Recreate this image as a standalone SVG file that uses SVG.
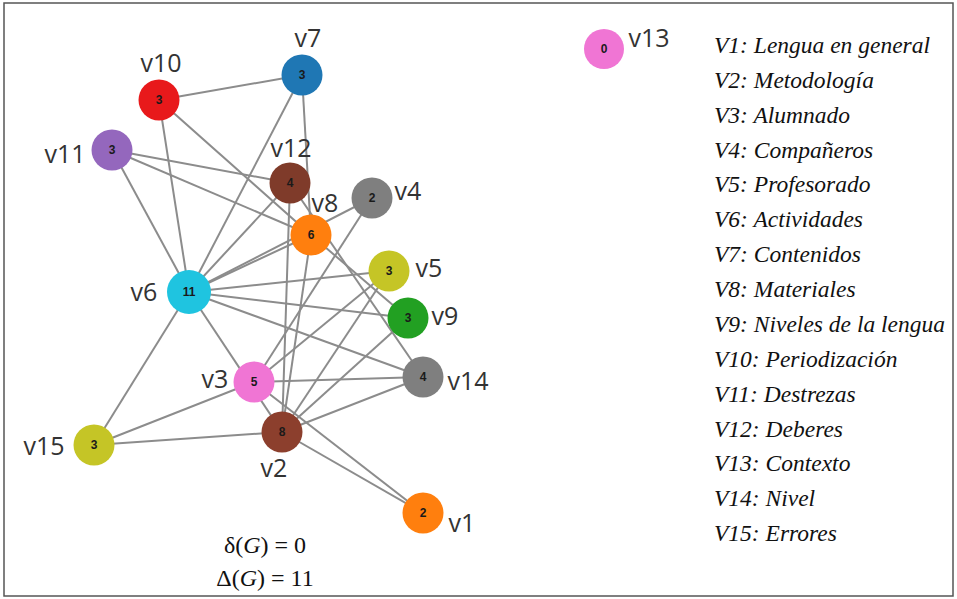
<svg xmlns="http://www.w3.org/2000/svg" width="957" height="599" viewBox="0 0 957 599">
<style>
.e{stroke:#8c8c8c;stroke-width:2;fill:none}
.n{stroke:none}
.d{font-family:"Liberation Sans",Arial,sans-serif;font-size:12px;font-weight:bold;fill:#1a1a1a;text-anchor:middle}
.l{font-family:"Open Sans","Liberation Sans",sans-serif;font-size:25px;fill:#333333;text-anchor:middle}
.g{font-family:"Liberation Serif","Times New Roman",serif;font-style:italic;font-size:23.5px;fill:#111111}
.f{font-family:"Liberation Serif","Times New Roman",serif;font-size:24px;fill:#111111;text-anchor:middle}
</style>
<rect x="4" y="3" width="949" height="593" fill="#ffffff" stroke="#555555" stroke-width="1.5"/>
<g id="edges">
<line class="e" x1="159" y1="100" x2="302" y2="75"/>
<line class="e" x1="159" y1="100" x2="189" y2="292"/>
<line class="e" x1="159" y1="100" x2="311" y2="235"/>
<line class="e" x1="302" y1="75" x2="189" y2="292"/>
<line class="e" x1="302" y1="75" x2="311" y2="235"/>
<line class="e" x1="112" y1="150" x2="189" y2="292"/>
<line class="e" x1="112" y1="150" x2="290" y2="183"/>
<line class="e" x1="112" y1="150" x2="311" y2="235"/>
<line class="e" x1="189" y1="292" x2="94" y2="445"/>
<line class="e" x1="189" y1="292" x2="282" y2="432"/>
<line class="e" x1="189" y1="292" x2="290" y2="183"/>
<line class="e" x1="189" y1="292" x2="311" y2="235"/>
<line class="e" x1="189" y1="292" x2="372" y2="198"/>
<line class="e" x1="189" y1="292" x2="389" y2="271"/>
<line class="e" x1="189" y1="292" x2="408" y2="318"/>
<line class="e" x1="189" y1="292" x2="423" y2="377"/>
<line class="e" x1="94" y1="445" x2="254" y2="382"/>
<line class="e" x1="94" y1="445" x2="282" y2="432"/>
<line class="e" x1="282" y1="432" x2="423" y2="513"/>
<line class="e" x1="254" y1="382" x2="423" y2="513"/>
<line class="e" x1="254" y1="382" x2="423" y2="377"/>
<line class="e" x1="282" y1="432" x2="423" y2="377"/>
<line class="e" x1="282" y1="432" x2="408" y2="318"/>
<line class="e" x1="282" y1="432" x2="311" y2="235"/>
<line class="e" x1="282" y1="432" x2="290" y2="183"/>
<line class="e" x1="254" y1="382" x2="372" y2="198"/>
<line class="e" x1="311" y1="235" x2="408" y2="318"/>
<line class="e" x1="290" y1="183" x2="423" y2="377"/>
<line class="e" x1="254" y1="382" x2="389" y2="271"/>
<line class="e" x1="282" y1="432" x2="389" y2="271"/>
</g>
<g id="v1"><circle class="n" cx="423" cy="513" r="20.5" fill="#ff7f0e"/><text class="d" x="423" y="517">2</text><text class="l" x="462" y="532">v1</text></g>
<g id="v2"><circle class="n" cx="282" cy="432" r="20.5" fill="#8c3f2d"/><text class="d" x="282" y="436">8</text><text class="l" x="274" y="477">v2</text></g>
<g id="v3"><circle class="n" cx="254" cy="382" r="20.5" fill="#f075d4"/><text class="d" x="254" y="386">5</text><text class="l" x="215" y="388">v3</text></g>
<g id="v4"><circle class="n" cx="372" cy="198" r="20.5" fill="#7f7f7f"/><text class="d" x="372" y="202">2</text><text class="l" x="408" y="200">v4</text></g>
<g id="v5"><circle class="n" cx="389" cy="271" r="20.5" fill="#c5c526"/><text class="d" x="389" y="275">3</text><text class="l" x="429" y="277">v5</text></g>
<g id="v6"><circle class="n" cx="189" cy="292" r="22" fill="#1fc4e0"/><text class="d" x="189" y="296">11</text><text class="l" x="144" y="301">v6</text></g>
<g id="v7"><circle class="n" cx="302" cy="75" r="20.5" fill="#1f77b4"/><text class="d" x="302" y="79">3</text><text class="l" x="308" y="47">v7</text></g>
<g id="v8"><circle class="n" cx="311" cy="235" r="20.5" fill="#ff7f0e"/><text class="d" x="311" y="239">6</text><text class="l" x="325" y="212">v8</text></g>
<g id="v9"><circle class="n" cx="408" cy="318" r="20.5" fill="#22a022"/><text class="d" x="408" y="322">3</text><text class="l" x="445" y="325">v9</text></g>
<g id="v10"><circle class="n" cx="159" cy="100" r="20.5" fill="#e8191b"/><text class="d" x="159" y="104">3</text><text class="l" x="161" y="72">v10</text></g>
<g id="v11"><circle class="n" cx="112" cy="150" r="20.5" fill="#9467bd"/><text class="d" x="112" y="154">3</text><text class="l" x="65" y="163">v11</text></g>
<g id="v12"><circle class="n" cx="290" cy="183" r="20.5" fill="#7f3b2a"/><text class="d" x="290" y="187">4</text><text class="l" x="291" y="157">v12</text></g>
<g id="v13"><circle class="n" cx="604" cy="49" r="20" fill="#f075d4"/><text class="d" x="604" y="53">0</text><text class="l" x="649" y="47">v13</text></g>
<g id="v14"><circle class="n" cx="423" cy="377" r="20.5" fill="#7f7f7f"/><text class="d" x="423" y="381">4</text><text class="l" x="468" y="390">v14</text></g>
<g id="v15"><circle class="n" cx="94" cy="445" r="20.5" fill="#c5c526"/><text class="d" x="94" y="449">3</text><text class="l" x="44" y="455">v15</text></g>
<g id="legend">
<text class="g" x="714" y="53">V1: Lengua en general</text>
<text class="g" x="714" y="88">V2: Metodología</text>
<text class="g" x="714" y="123">V3: Alumnado</text>
<text class="g" x="714" y="158">V4: Compañeros</text>
<text class="g" x="714" y="192">V5: Profesorado</text>
<text class="g" x="714" y="227">V6: Actividades</text>
<text class="g" x="714" y="262">V7: Contenidos</text>
<text class="g" x="714" y="297">V8: Materiales</text>
<text class="g" x="714" y="332">V9: Niveles de la lengua</text>
<text class="g" x="714" y="367">V10: Periodización</text>
<text class="g" x="714" y="402">V11: Destrezas</text>
<text class="g" x="714" y="437">V12: Deberes</text>
<text class="g" x="714" y="471">V13: Contexto</text>
<text class="g" x="714" y="506">V14: Nivel</text>
<text class="g" x="714" y="541">V15: Errores</text>
</g>
<g id="formulas">
<text class="f" x="265" y="553">δ(<tspan font-style="italic">G</tspan>) = 0</text>
<text class="f" x="265" y="586">Δ(<tspan font-style="italic">G</tspan>) = 11</text>
</g>
</svg>
